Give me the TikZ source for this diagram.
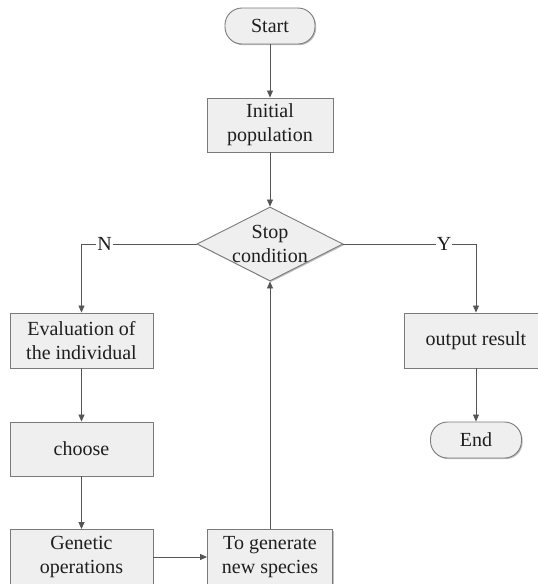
\documentclass[tikz,border=0pt]{standalone}
\usepackage{fontspec}
\setmainfont{Liberation Serif}
\usetikzlibrary{arrows.meta,shapes.geometric,shadows}
\definecolor{boxfill}{HTML}{EFEFEF}
\definecolor{boxline}{HTML}{7A7A7A}
\definecolor{linecol}{HTML}{555555}
\definecolor{txt}{HTML}{1E1E1E}
\begin{document}
\begin{tikzpicture}[x=1pt,y=-1pt,
  every node/.style={text=txt,font=\fontsize{20pt}{24pt}\selectfont},
  procbox/.style={draw=boxline,fill=boxfill,line width=0.9pt,align=center,inner sep=0pt,
     drop shadow={shadow xshift=1.2pt,shadow yshift=-1.2pt,fill=black,opacity=0.25}},
  termbox/.style={procbox,rounded corners=17pt},
  decbox/.style={draw=boxline,fill=boxfill,line width=0.9pt,diamond,inner sep=0pt,
     minimum width=146pt,minimum height=74pt,
     drop shadow={shadow xshift=1.2pt,shadow yshift=-1.2pt,fill=black,opacity=0.25}},
  conn/.style={draw=linecol,line width=0.8pt,-{Triangle[width=6pt,length=7pt]}},
  lab/.style={fill=white,inner sep=1pt}]
\useasboundingbox (0,0) rectangle (538,584);
\clip (0,0) rectangle (538,584);
\node[termbox,minimum width=90pt,minimum height=36pt] (start) at (270,26) {Start};
\node[procbox,minimum width=126pt,minimum height=54pt] (init) at (270,125) {Initial\\population};
\node[decbox] (stop) at (270,244) {};
\node[align=center,inner sep=0pt] (stoptxt) at (270,244) {Stop\\condition};
\node[procbox,minimum width=143pt,minimum height=55pt] (eval) at (81.5,340.5) {Evaluation of\\the individual};
\node[procbox,minimum width=143pt,minimum height=54pt] (choose) at (81.5,449) {choose};
\node[procbox,minimum width=143pt,minimum height=55pt] (gen) at (81.5,557) {Genetic\\operations};
\node[procbox,minimum width=125pt,minimum height=55pt] (tonew) at (270,557) {To generate\\new species};
\node[procbox,minimum width=144pt,minimum height=55pt] (out) at (476,340.5) {output result};
\node[termbox,minimum width=91pt,minimum height=36pt] (end) at (476,440) {End};
\draw[conn] (start.south) -- (init.north);
\draw[conn] (init.south) -- (stop.north);
\draw[conn] (stop.west) -| node[lab,pos=0.4] {N} (eval.north);
\draw[conn] (stop.east) -| node[lab,pos=0.38] {Y} (out.north);
\draw[conn] (eval.south) -- (choose.north);
\draw[conn] (choose.south) -- (gen.north);
\draw[conn] (gen.east) -- (tonew.west);
\draw[conn] (tonew.north) -- (stop.south);
\draw[conn] (out.south) -- (end.north);
\end{tikzpicture}
\end{document}
